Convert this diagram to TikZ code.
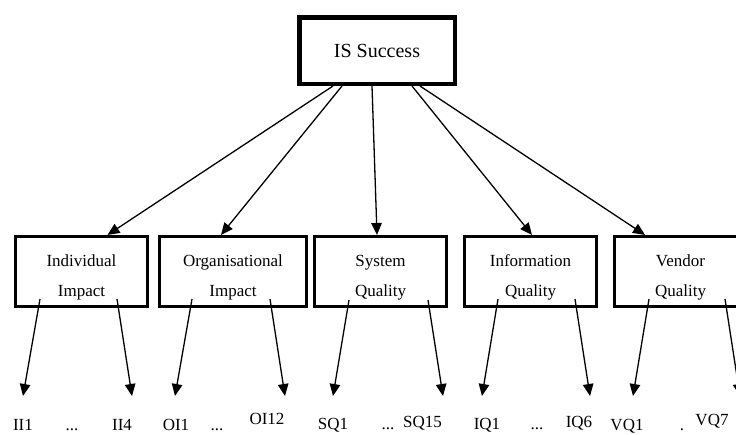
\documentclass[tikz,border=0pt]{standalone}
\usepackage{fontspec}
\setmainfont{Liberation Serif}
\usetikzlibrary{arrows.meta}
\begin{document}
\begin{tikzpicture}[x=1pt,y=-1pt,
  topbox/.style={draw=black,line width=4.5pt,rectangle,inner sep=0pt,
    minimum width=155.5pt,minimum height=66.5pt,font=\fontsize{20}{20}\selectfont},
  midbox/.style={draw=black,line width=3.3pt,rectangle,inner sep=0pt,
    minimum width=131.8pt,minimum height=69.8pt},
  lbl/.style={anchor=base,inner sep=0pt,font=\fontsize{17}{17}\selectfont},
  arr/.style={line width=1.3pt,-{Triangle[length=12pt,width=10.5pt]}}]
\useasboundingbox (0,0) rectangle (736,434);
\clip (0,0) rectangle (736,434);

% top
\node[topbox] (is) at (377,50.5) {IS Success};

% middle boxes
\node[midbox] (b1) at (81.5,271.5) {};
\node[midbox,minimum width=146.8pt] (b2) at (233,271.5) {};
\node[midbox] (b3) at (380.5,271.5) {};
\node[midbox] (b4) at (530.5,271.5) {};
\node[midbox] (b5) at (680.5,271.5) {};

\node[lbl] (t1a) at (81.5,266) {Individual};
\node[lbl] (t1b) at (81.5,296) {Impact};
\node[lbl] (t2a) at (233,266) {Organisational};
\node[lbl] (t2b) at (233,296) {Impact};
\node[lbl] (t3a) at (380.5,266) {System};
\node[lbl] (t3b) at (380.5,296) {Quality};
\node[lbl] (t4a) at (530.5,266) {Information};
\node[lbl] (t4b) at (530.5,296) {Quality};
\node[lbl] (t5a) at (680.5,266) {Vendor};
\node[lbl] (t5b) at (680.5,296) {Quality};

% top arrows
\draw[arr] ([xshift=-44pt]is.south) -- ([xshift=26pt]b1.north);
\draw[arr] ([xshift=-35pt]is.south) -- ([xshift=-12pt]b2.north);
\draw[arr] ([xshift=-5pt]is.south) -- ([xshift=-3.5pt]b3.north);
\draw[arr] ([xshift=35pt]is.south) -- ([xshift=1.5pt]b4.north);
\draw[arr] ([xshift=43pt]is.south) -- ([xshift=-35.5pt]b5.north);

% bottom tip coordinates
\coordinate (e1) at (23,396);
\coordinate (e2) at (132,396);
\coordinate (e3) at (175,396);
\coordinate (e4) at (285,396);
\coordinate (e5) at (333,396);
\coordinate (e6) at (443,396);
\coordinate (e7) at (482,396);
\coordinate (e8) at (590,396);
\coordinate (e9) at (633,396);
\coordinate (e10) at (740,396);

% bottom arrows
\draw[arr] ([shift={(-41.5pt,-27.5pt)}]b1.center) -- (e1);
\draw[arr] ([shift={(35.5pt,-27.5pt)}]b1.center) -- (e2);
\draw[arr] ([shift={(-41pt,-27.5pt)}]b2.center) -- (e3);
\draw[arr] ([shift={(37pt,-27.5pt)}]b2.center) -- (e4);
\draw[arr] ([shift={(-31.5pt,-28.5pt)}]b3.center) -- (e5);
\draw[arr] ([shift={(47.5pt,-28.5pt)}]b3.center) -- (e6);
\draw[arr] ([shift={(-32.5pt,-27.5pt)}]b4.center) -- (e7);
\draw[arr] ([shift={(44.5pt,-27.5pt)}]b4.center) -- (e8);
\draw[arr] ([shift={(-31.5pt,-27.5pt)}]b5.center) -- (e9);
\draw[arr] ([shift={(44.5pt,-27.5pt)}]b5.center) -- (e10);

% bottom labels
\node[lbl] (l1) at (23,430) {II1};
\node[lbl] (d1) at (72,430) {...};
\node[lbl] (l2) at (122,430) {II4};
\node[lbl] (l3) at (176,430) {OI1};
\node[lbl] (d2) at (217,430) {...};
\node[lbl] (l4) at (267,424.5) {OI12};
\node[lbl] (l5) at (333,429) {SQ1};
\node[lbl] (d3) at (388,429) {...};
\node[lbl] (l6) at (422.5,427.5) {SQ15};
\node[lbl] (l7) at (487,429) {IQ1};
\node[lbl] (d4) at (537,429) {...};
\node[lbl] (l8) at (579,427.5) {IQ6};
\node[lbl] (l9) at (627,430) {VQ1};
\node[lbl] (d5) at (682,430) {.};
\node[lbl] (l10) at (712,425.5) {VQ7};
\end{tikzpicture}
\end{document}
